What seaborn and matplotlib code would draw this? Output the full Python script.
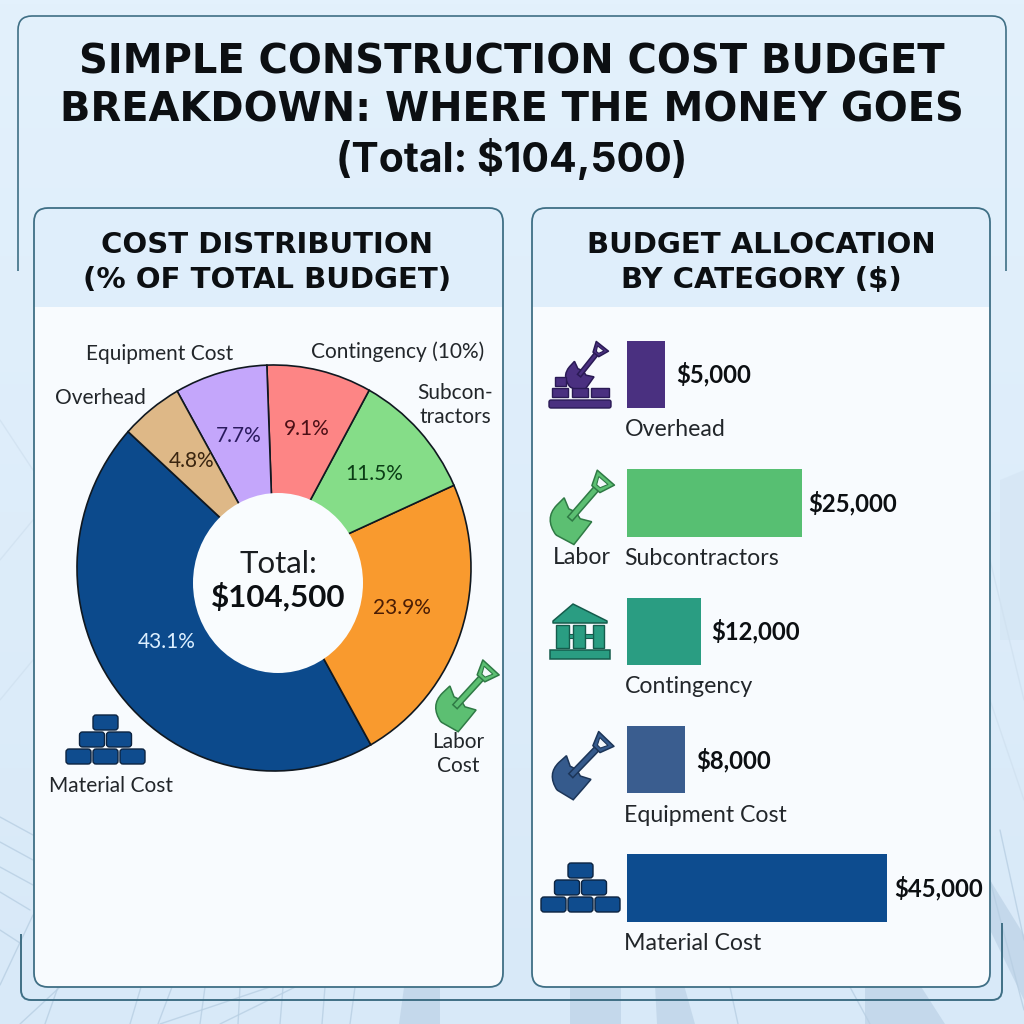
import numpy as np
import pandas as pd
import matplotlib
matplotlib.use('Agg')
import matplotlib.pyplot as plt
import seaborn as sns
from matplotlib.patches import FancyBboxPatch, Rectangle, Ellipse, Polygon, PathPatch
from matplotlib.path import Path
from matplotlib.transforms import Affine2D

pie_names = ['Material Cost', 'Labor Cost', 'Subcontractors', 'Contingency', 'Equipment Cost', 'Overhead']
pie_printed = ['43.1%', '23.9%', '11.5%', '9.1%', '7.7%', '4.8%']
pie_shares = [44.9, 23.5, 10.3, 8.6, 7.6, 5.1]
pie_colors = ['#0c4a8c', '#f99a2e', '#85dd88', '#fd8585', '#c4a6fb', '#deb887']
pie_text_colors = ['#dcefff', '#4a1d05', '#0b3d16', '#4a0f16', '#2a1a5e', '#3a2510']

# Bar data: printed amounts, plus the lengths the bars are drawn with
bar_names = ['Overhead', 'Subcontractors', 'Contingency', 'Equipment Cost', 'Material Cost']
bar_printed = ['$5,000', '$25,000', '$12,000', '$8,000', '$45,000']
bar_lengths = [6520, 30260, 12790, 10080, 45000]
bar_colors = ['#4a3080', '#57bf72', '#2a9d82', '#3a5d8f', '#0d4c8f']

INK = '#0c0f12'
EDGE = '#3f6f85'
TITLE_FONT = 'DejaVu Sans'
BODY_FONT = 'Lato'

sns.set_theme(style='white')
plt.rcParams['font.family'] = [BODY_FONT, 'DejaVu Sans']


def px_rect(left, top, right, bottom):
    return [left / 1024, 1 - bottom / 1024, (right - left) / 1024, (bottom - top) / 1024]


def px_axes(fig, zorder):
    ax = fig.add_axes([0, 0, 1, 1], zorder=zorder)
    ax.set_xlim(0, 1024)
    ax.set_ylim(1024, 0)
    ax.axis('off')
    ax.patch.set_alpha(0)
    return ax


def draw_bricks(ax, left, top, w, h, gap, color):
    # three rows of rounded bricks stacked like a pyramid
    for row, count in enumerate([1, 2, 3]):
        y = top + row * (h + gap)
        x0 = left + (3 - count) * (w + gap) / 2
        for i in range(count):
            ax.add_patch(FancyBboxPatch((x0 + i * (w + gap) + 2, y + 2), w - 4, h - 4,
                                        boxstyle='round,pad=2,rounding_size=3',
                                        fc=color, ec='#0c2340', lw=1.0))


def draw_shovel(ax, x, y, size, angle, color, edge):
    # local coords: blade tip at 0,0 and grip top at 0,1, then scaled and rotated into place
    tr = Affine2D().scale(size, -size).rotate_deg(angle).translate(x, y) + ax.transData
    blade = Path([(0, 0), (-.26, .06), (-.25, .3), (-.24, .44), (-.1, .37), (0, .4), (.1, .37), (.24, .44),
                  (.25, .3), (.26, .06), (0, 0)],
                 [Path.MOVETO, Path.CURVE3, Path.CURVE3, Path.LINETO, Path.LINETO, Path.LINETO, Path.LINETO,
                  Path.LINETO, Path.CURVE3, Path.CURVE3, Path.LINETO])
    ax.add_patch(PathPatch(blade, fc=color, ec=edge, lw=1.1, transform=tr))
    ax.add_patch(Polygon([(-.04, .28), (.04, .28), (.04, .84), (-.04, .84)], fc=color, ec=edge, lw=1.1, transform=tr))
    ax.add_patch(Polygon([(-.15, 1.0), (.15, 1.0), (.07, .8), (-.07, .8)], fc=color, ec=edge, lw=1.1,
                         joinstyle='round', transform=tr))
    ax.add_patch(Polygon([(-.08, .95), (.08, .95), (.03, .85), (-.03, .85)], fc='#f4f8fb', ec=edge, lw=.8, transform=tr))


def draw_temple(ax, color, edge):
    ax.add_patch(Polygon([(573, 604), (607, 621), (607, 623), (553, 623), (553, 621)], fc=color, ec=edge, lw=1.1, joinstyle='round'))
    ax.add_patch(Rectangle((550, 650), 60, 9, fc=color, ec=edge, lw=1.1))
    for x, w in [(556, 13), (573, 12), (593, 11)]:
        ax.add_patch(Rectangle((x, 625), w, 23, fc=color, ec=edge, lw=1))
    ax.add_patch(Rectangle((569, 634), 4, 4, fc=color, ec=edge, lw=.8))
    ax.add_patch(Rectangle((585, 634), 8, 4, fc=color, ec=edge, lw=.8))


def corner_path(points, radius):
    # open polyline with rounded corners
    verts, codes = [points[0]], [Path.MOVETO]
    for i in range(1, len(points) - 1):
        p = np.array(points[i], dtype=float)
        a = p + radius * np.sign(np.array(points[i - 1]) - p)
        b = p + radius * np.sign(np.array(points[i + 1]) - p)
        verts += [tuple(a), tuple(p), tuple(b)]
        codes += [Path.LINETO, Path.CURVE3, Path.CURVE3]
    verts.append(points[-1])
    codes.append(Path.LINETO)
    return Path(verts, codes)


fig = plt.figure(figsize=(10.24, 10.24), dpi=100)

# Background
bg = px_axes(fig, 0)
top_col = np.array([227, 241, 252]) / 255
low_col = np.array([216, 233, 248]) / 255
shade = np.linspace(0, 1, 256)[:, None, None]
bg.imshow(top_col + (low_col - top_col) * shade, extent=[0, 1024, 1024, 0], aspect='auto', zorder=0)
bg.set_xlim(0, 1024)
bg.set_ylim(1024, 0)

# faint building silhouette behind everything
for poly in [[(399, 1024), (405, 980), (440, 980), (440, 1024)],
             [(570, 1024), (570, 980), (621, 980), (621, 1024)],
             [(657, 1024), (655, 985), (684, 985), (695, 1024)],
             [(865, 1024), (865, 985), (920, 985), (945, 1024)],
             [(990, 880), (1024, 935), (1024, 1000), (990, 930)]]:
    bg.add_patch(Polygon(poly, fc='#bcd2e6', ec='none', alpha=.7, zorder=1))
bg.add_patch(Polygon([(1000, 480), (1024, 470), (1024, 640), (1000, 640)], fc='#d2e3f2', ec='none', alpha=.5, zorder=1))
for x0, y0, x1, y1 in [(0, 817, 33, 835), (0, 842, 33, 860), (0, 867, 33, 885), (0, 892, 30, 910),
                       (0, 930, 20, 943), (0, 985, 33, 915), (20, 1024, 60, 987), (45, 1024, 58, 987),
                       (130, 1024, 141, 987), (158, 1024, 172, 987), (160, 1024, 270, 987), (220, 1024, 340, 965),
                       (200, 1024, 205, 987), (238, 1024, 240, 987), (280, 1024, 283, 987), (322, 1024, 325, 987),
                       (350, 1024, 355, 987), (1024, 940, 1000, 830), (1024, 1010, 990, 880),
                       (730, 987, 738, 1024), (850, 987, 870, 1024)]:
    bg.plot([x0, x1], [y0, y1], color='#b8cfe3', lw=1, alpha=.8, zorder=1)
for x0, y0, x1, y1 in [(0, 420, 33, 470), (0, 560, 33, 520), (0, 700, 33, 660), (1024, 700, 990, 560), (1024, 800, 990, 700)]:
    bg.plot([x0, x1], [y0, y1], color='#cfe0ef', lw=1, alpha=.7, zorder=1)

# Panels
for left, right in [(34, 503), (532, 990)]:
    panel = FancyBboxPatch((left + 14, 208 + 14), right - left - 28, 987 - 208 - 28,
                           boxstyle='round,pad=14,rounding_size=14', fc='#dfeefb', ec='none', zorder=2)
    bg.add_patch(panel)
    body = Rectangle((left, 307), right - left, 987 - 307, fc='#fbfdff', ec='none', alpha=.93, zorder=3)
    bg.add_patch(body)
    body.set_clip_path(panel)
    bg.add_patch(FancyBboxPatch((left + 14, 208 + 14), right - left - 28, 987 - 208 - 28,
                                boxstyle='round,pad=14,rounding_size=14', fc='none', ec=EDGE, lw=1.3, zorder=4))

# Outer frame, broken on both sides
bg.add_patch(PathPatch(corner_path([(18, 271), (18, 16), (1006, 16), (1006, 271)], 14), fc='none', ec=EDGE, lw=1.2, zorder=4))
bg.add_patch(PathPatch(corner_path([(21, 934), (21, 1000), (1002, 1000), (1002, 923)], 10), fc='none', ec=EDGE, lw=1.4, zorder=4))

# Pie
pie_ax = fig.add_axes(px_rect(77, 365, 471, 771), zorder=2)
pie_ax.pie(pie_shares, colors=pie_colors, startangle=137.8, counterclock=True,
           wedgeprops={'edgecolor': '#101820', 'linewidth': 1.2}, radius=1)
pie_ax.set_aspect('auto')
pie_ax.set_xlim(-1, 1)
pie_ax.set_ylim(-1, 1)
pie_ax.patch.set_alpha(0)

# Bars
bars = pd.DataFrame({'category': bar_names, 'length': bar_lengths})
bar_ax = fig.add_axes(px_rect(627, 310.25, 887.3, 952.25), zorder=2)
sns.barplot(data=bars, y='category', x='length', hue='category', order=bar_names, hue_order=bar_names,
            palette=bar_colors, legend=False, width=.525, saturation=1, linewidth=0, ax=bar_ax)
bar_ax.set_xlim(0, 45000)
bar_ax.set_ylim(4.5, -.5)
bar_ax.axis('off')

value_pads = [12, 6, 10, 11, 7]
for i, printed in enumerate(bar_printed):
    bar_ax.annotate(printed, xy=(bar_lengths[i], i), xytext=(value_pads[i] * .72, 0), textcoords='offset points',
                    ha='left', va='center', fontsize=17.2, fontweight='bold', color=INK, annotation_clip=False)
    bar_ax.annotate(bar_names[i], xy=(0, i), xytext=(-2.5 * .72, -55.5 * .72), textcoords='offset points',
                    ha='left', va='center', fontsize=16.7, color='#22262a', annotation_clip=False)

# Everything on top of the plots, in pixel coordinates
top = px_axes(fig, 3)
top.add_patch(Ellipse((278, 583), 170, 180, fc='#f9fcfe', ec='none'))
top.text(278, 564, 'Total:', ha='center', va='center', fontsize=22.5, color='#1a1d20')
top.text(278, 597, '$104,500', ha='center', va='center', fontsize=22.6, fontweight='bold', color=INK)

pct_xy = [(167, 642), (402, 608), (374, 474), (307, 429), (239, 436), (192, 461)]
for (x, y), printed, col in zip(pct_xy, pie_printed, pie_text_colors):
    top.text(x, y, printed, ha='center', va='center', fontsize=15, color=col)

# Pie outside labels
for x, y, txt in [(111, 786, 'Material Cost'), (458, 742, 'Labor'), (458, 766, 'Cost'), (160, 354, 'Equipment Cost'),
                  (100, 398, 'Overhead'), (398, 352, 'Contingency (10%)'), (455, 393, 'Subcon-'), (455, 417, 'tractors')]:
    top.text(x, y, txt, ha='center', va='center', fontsize=15, color='#22262a')
top.text(582, 558, 'Labor', ha='center', va='center', fontsize=16.7, color='#22262a')

# Titles
for y, txt in [(73, 'SIMPLE CONSTRUCTION COST BUDGET'), (122, 'BREAKDOWN: WHERE THE MONEY GOES')]:
    top.text(512, y, txt, ha='center', va='baseline', fontsize=28.8, fontweight='bold', color=INK, family=TITLE_FONT)
top.text(512, 172, '(Total: $104,500)', ha='center', va='baseline', fontsize=29.5, fontweight='bold', color=INK, family='Inter')
for x, y, txt in [(267, 253, 'COST DISTRIBUTION'), (267, 288, '(% OF TOTAL BUDGET)'),
                  (761, 253, 'BUDGET ALLOCATION'), (761, 288, 'BY CATEGORY ($)')]:
    top.text(x, y, txt, ha='center', va='baseline', fontsize=21, fontweight='bold', color=INK, family=TITLE_FONT)

# Icons
draw_bricks(top, 66, 715, 25, 15, 2, '#0f4c8e')
draw_bricks(top, 541, 863, 25, 15, 2, '#0f4c8e')
draw_shovel(top, 441, 722, 74, 42.5, '#5cbf72', '#2f7a45')
draw_shovel(top, 556, 535, 76, 41, '#5cbf72', '#2f7a45')
draw_shovel(top, 557, 790, 71, 44, '#355a8c', '#1c3558')
draw_shovel(top, 570, 387, 52, 38.5, '#4a3080', '#2a1a55')
top.add_patch(FancyBboxPatch((551, 402), 58, 4, boxstyle='round,pad=2,rounding_size=2', fc='#4a3080', ec='#2a1a55', lw=1))
for x, y, w, h in [(555, 377, 11, 9), (552, 388, 16, 9), (572, 388, 16, 9), (591, 388, 18, 9)]:
    top.add_patch(Rectangle((x, y), w, h, fc='#4a3080', ec='#2a1a55', lw=1))
draw_temple(top, '#2a9d82', '#155c4c')

fig.savefig('out.png', dpi=100)
